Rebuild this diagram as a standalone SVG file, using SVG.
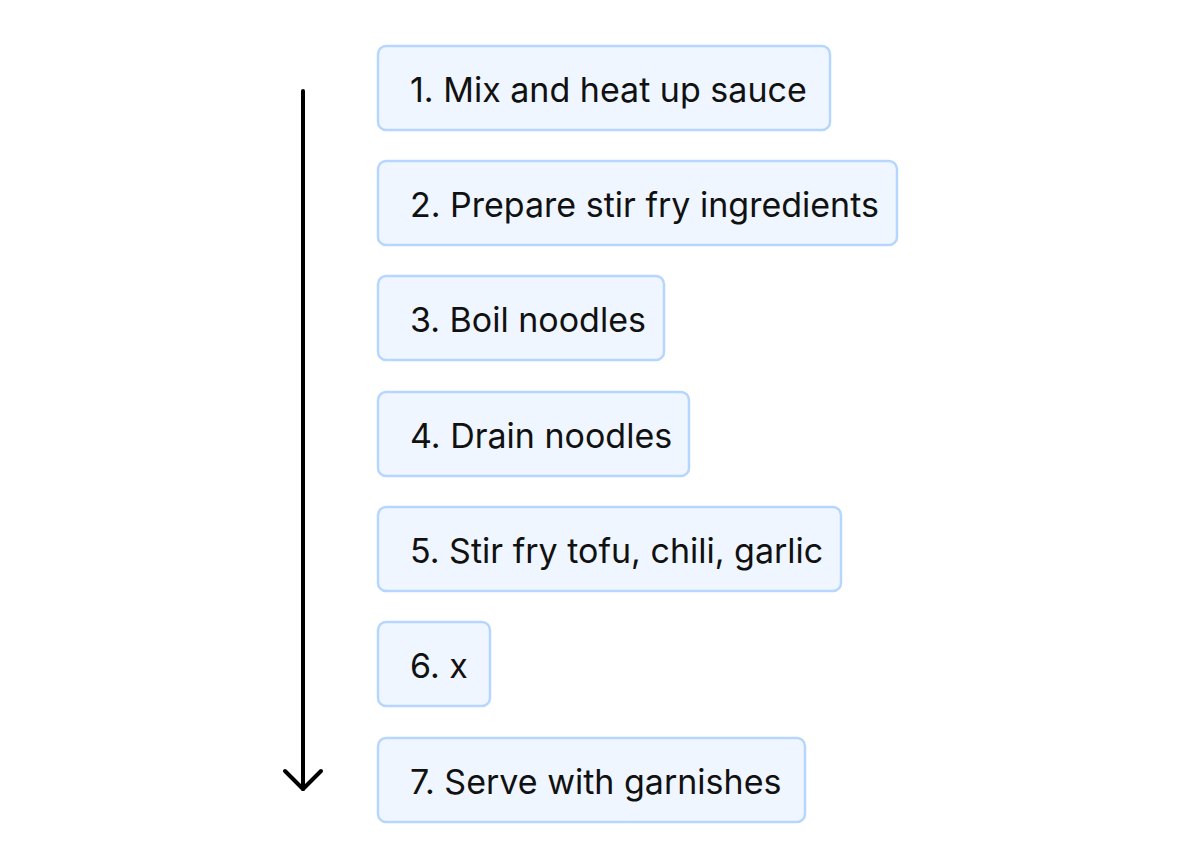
<svg xmlns="http://www.w3.org/2000/svg" width="1200" height="868" viewBox="0 0 1200 868">
<style>
.box{fill:#EFF6FF;stroke:#B6D6FE;stroke-width:2.5}
.t{font-family:Inter,"Noto Sans",sans-serif;font-size:34px;fill:#111111}
.c{stroke:#000;stroke-width:4;fill:none;stroke-linecap:round;stroke-linejoin:round}
</style>
<rect width="1200" height="868" fill="#ffffff"/>
<g id="connectors">
<path class="c" d="M303 91 V789"/>
<path class="c" d="M285 771 L303 789 L321 771"/>
</g>
<g id="n1"><rect class="box" x="378" y="46" width="452" height="84" rx="8"/><text class="t" x="410" y="101.5">1. Mix and heat up sauce</text></g>
<g id="n2"><rect class="box" x="378" y="161" width="519" height="84" rx="8"/><text class="t" x="410" y="216.5">2. Prepare stir fry ingredients</text></g>
<g id="n3"><rect class="box" x="378" y="276" width="286" height="84" rx="8"/><text class="t" x="410" y="331.5">3. Boil noodles</text></g>
<g id="n4"><rect class="box" x="378" y="392" width="311" height="84" rx="8"/><text class="t" x="410" y="447.5">4. Drain noodles</text></g>
<g id="n5"><rect class="box" x="378" y="507" width="463" height="84" rx="8"/><text class="t" x="410" y="562.5">5. Stir fry tofu, chili, garlic</text></g>
<g id="n6"><rect class="box" x="378" y="622" width="112" height="84" rx="8"/><text class="t" x="410" y="677.5">6. x</text></g>
<g id="n7"><rect class="box" x="378" y="738" width="427" height="84" rx="8"/><text class="t" x="410" y="793.5">7. Serve with garnishes</text></g>
</svg>
